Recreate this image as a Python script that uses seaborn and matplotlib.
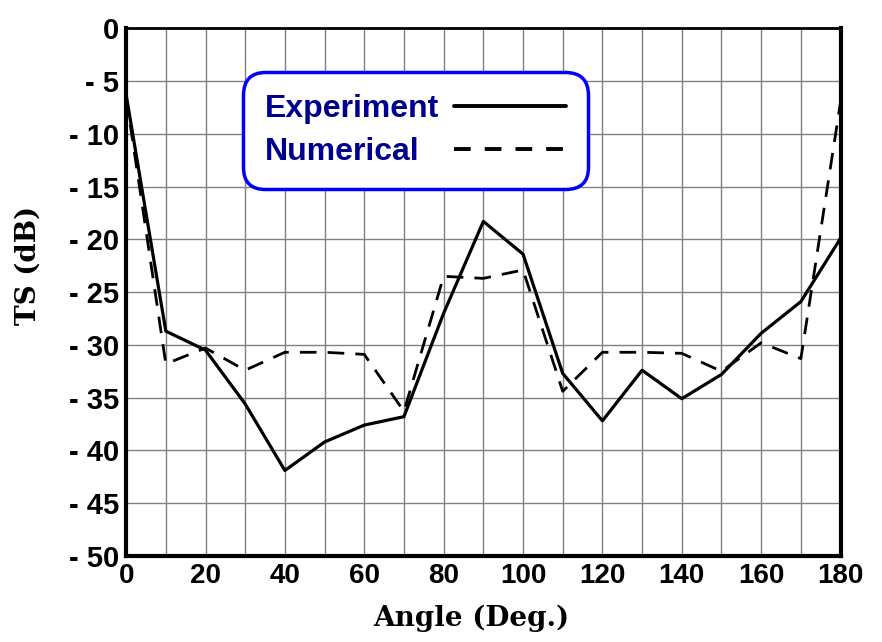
import matplotlib
matplotlib.use("Agg")
import matplotlib.pyplot as plt
import seaborn as sns
import pandas as pd
from matplotlib.lines import Line2D

angles = [0, 10, 20, 30, 40, 50, 60, 70, 80, 90, 100, 110, 120, 130, 140, 150, 160, 170, 180]
experiment = [-6.3, -28.7, -30.5, -35.6, -41.9, -39.2, -37.6, -36.8, -27.0, -18.3, -21.4,
              -32.7, -37.2, -32.4, -35.1, -32.8, -28.9, -25.9, -19.9]
numerical = [-6.5, -31.8, -30.3, -32.4, -30.7, -30.7, -30.9, -36.3, -23.5, -23.7, -22.9,
             -34.4, -30.7, -30.7, -30.8, -32.5, -29.8, -31.3, -7.0]
x_ticks = [0, 20, 40, 60, 80, 100, 120, 140, 160, 180]
y_ticks = [0, -5, -10, -15, -20, -25, -30, -35, -40, -45, -50]
y_tick_labels = ["0", "- 5", "- 10", "- 15", "- 20", "- 25", "- 30", "- 35", "- 40", "- 45", "- 50"]
series_names = ["Experiment", "Numerical"]

sns.set_theme(style="white")
plt.rcParams["font.family"] = ["Liberation Sans", "DejaVu Sans"]
plt.rcParams["text.color"] = "black"
plt.rcParams["axes.labelcolor"] = "black"
plt.rcParams["xtick.color"] = "black"
plt.rcParams["ytick.color"] = "black"

df = pd.DataFrame({"angle": angles, "Experiment": experiment, "Numerical": numerical})

fig = plt.figure(figsize=(8.82, 6.42), dpi=100)
ax = fig.add_axes([0.143, 0.134, 0.810, 0.822])

sns.lineplot(data=df, x="angle", y="Experiment", ax=ax, color="black", linewidth=2.3)
sns.lineplot(data=df, x="angle", y="Numerical", ax=ax, color="black", linewidth=2.0,
             linestyle=(0, (6, 4)))

ax.set_xlim(0, 180)
ax.set_ylim(-50, 0)
ax.set_yticks(y_ticks)
ax.set_yticklabels(y_tick_labels, fontsize=21, fontweight="bold", color="black")
ax.set_xticks(x_ticks)
ax.set_xticks(range(10, 180, 20), minor=True)
ax.set_xticklabels([str(t) for t in x_ticks], fontsize=20, fontweight="bold", color="black")
ax.grid(True, which="both", color="#808080", linewidth=1.0)
ax.tick_params(axis="y", which="both", length=0, pad=5)
ax.tick_params(axis="x", which="both", length=0, pad=5)

for side in ["left", "bottom", "right"]:
    ax.spines[side].set_linewidth(3.0)
    ax.spines[side].set_color("black")
ax.spines["top"].set_linewidth(2.0)
ax.spines["top"].set_color("black")

ax.set_xlabel("Angle (Deg.)", fontsize=20, fontweight="bold", family=["DejaVu Serif"],
              color="black")
ax.set_ylabel("TS (dB)", fontsize=20, fontweight="bold", family=["DejaVu Serif"],
              color="black")
ax.xaxis.set_label_coords(0.483, -0.093)
ax.yaxis.set_label_coords(-0.118, 0.551)

handles = [Line2D([], [], color="black", linewidth=2.8),
           Line2D([], [], color="black", linewidth=2.8, linestyle=(0, (4.3, 3.6)))]
leg = ax.legend(handles, series_names, loc="upper left", bbox_to_anchor=(0.1636, 0.9167),
                borderaxespad=0, markerfirst=False, handlelength=3.5, handletextpad=0.47,
                labelspacing=0.42, borderpad=0.68, frameon=True, fancybox=True,
                prop={"size": 23, "weight": "bold"})
for t in leg.get_texts():
    t.set_color("#000090")
frame = leg.get_frame()
frame.set_edgecolor("#0000ff")
frame.set_linewidth(2.5)
frame.set_facecolor("white")
frame.set_alpha(1.0)
frame.set_boxstyle("round,pad=0,rounding_size=0.7")

# Left-align the legend labels while keeping the line samples in one column
renderer = fig.canvas.get_renderer()
column = leg._legend_handle_box.get_children()[0]
rows = column.get_children()
widths = [row.get_children()[0].get_window_extent(renderer).width for row in rows]
for row, w in zip(rows, widths):
    row.sep += (max(widths) - w) / renderer.points_to_pixels(1.0)

fig.savefig("out.png", dpi=100)
